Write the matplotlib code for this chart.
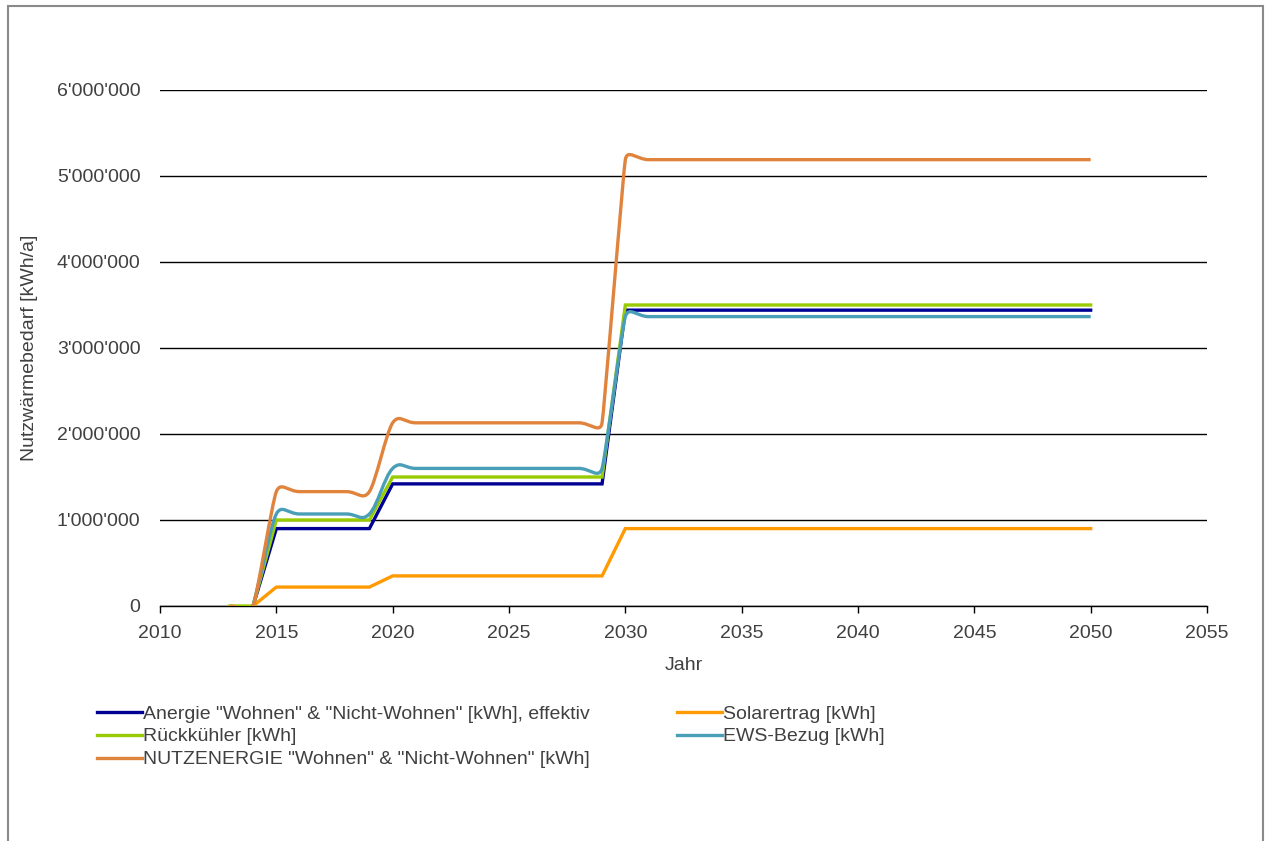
import numpy as np
import matplotlib
matplotlib.use("Agg")
import matplotlib.pyplot as plt
from matplotlib.path import Path
from matplotlib.patches import PathPatch, Rectangle
from matplotlib.lines import Line2D
from matplotlib.ticker import FuncFormatter, MultipleLocator

plt.rcParams["font.family"] = ["Liberation Sans", "DejaVu Sans"]

NAN = float("nan")
years = list(range(2013, 2051))

anergie = [NAN, 0,
           900000, 900000, 900000, 900000, 900000,
           1420000, 1420000, 1420000, 1420000, 1420000,
           1420000, 1420000, 1420000, 1420000, 1420000,
           3440000, 3440000, 3440000, 3440000, 3440000, 3440000, 3440000,
           3440000, 3440000, 3440000, 3440000, 3440000, 3440000, 3440000,
           3440000, 3440000, 3440000, 3440000, 3440000, 3440000, 3440000]
solar = [NAN, 0,
         220000, 220000, 220000, 220000, 220000,
         350000, 350000, 350000, 350000, 350000,
         350000, 350000, 350000, 350000, 350000,
         900000, 900000, 900000, 900000, 900000, 900000, 900000,
         900000, 900000, 900000, 900000, 900000, 900000, 900000,
         900000, 900000, 900000, 900000, 900000, 900000, 900000]
rueckkuehler = [0, 0,
                1000000, 1000000, 1000000, 1000000, 1000000,
                1500000, 1500000, 1500000, 1500000, 1500000,
                1500000, 1500000, 1500000, 1500000, 1500000,
                3500000, 3500000, 3500000, 3500000, 3500000, 3500000, 3500000,
                3500000, 3500000, 3500000, 3500000, 3500000, 3500000, 3500000,
                3500000, 3500000, 3500000, 3500000, 3500000, 3500000, 3500000]
ews = [NAN, 0,
       1070000, 1070000, 1070000, 1070000, 1070000,
       1600000, 1600000, 1600000, 1600000, 1600000,
       1600000, 1600000, 1600000, 1600000, 1600000,
       3365000, 3365000, 3365000, 3365000, 3365000, 3365000, 3365000,
       3365000, 3365000, 3365000, 3365000, 3365000, 3365000, 3365000,
       3365000, 3365000, 3365000, 3365000, 3365000, 3365000, 3365000]
nutzenergie = [0, 0,
               1330000, 1330000, 1330000, 1330000, 1330000,
               2130000, 2130000, 2130000, 2130000, 2130000,
               2130000, 2130000, 2130000, 2130000, 2130000,
               5190000, 5190000, 5190000, 5190000, 5190000, 5190000, 5190000,
               5190000, 5190000, 5190000, 5190000, 5190000, 5190000, 5190000,
               5190000, 5190000, 5190000, 5190000, 5190000, 5190000, 5190000]

labels = ['Anergie "Wohnen" & "Nicht-Wohnen" [kWh], effektiv',
          'Solarertrag [kWh]',
          'Rückkühler [kWh]',
          'EWS-Bezug [kWh]',
          'NUTZENERGIE "Wohnen" & "Nicht-Wohnen" [kWh]']
colors = ["#000094", "#FF9A00", "#99CC00", "#4A9FB8", "#E0833D"]
smoothed = [False, False, False, True, True]
series = [anergie, solar, rueckkuehler, ews, nutzenergie]

TEXT = "#404040"
LW = 2.4
W, H = 1268, 841
fig = plt.figure(figsize=(W / 100, H / 100), dpi=100)
ax = fig.add_axes([160 / W, 1 - 606 / H, (1207 - 160) / W, (606 - 90) / H])
ax.set_xlim(2010, 2055)
ax.set_ylim(0, 6000000)

ax.xaxis.set_major_locator(MultipleLocator(5))
ax.yaxis.set_major_locator(MultipleLocator(1000000))
ax.yaxis.set_major_formatter(FuncFormatter(lambda v, p: f"{int(round(v)):,}".replace(",", "'")))
ax.grid(axis="y", color="black", lw=1.0)
ax.set_axisbelow(True)
for s in ("left", "right", "top"):
    ax.spines[s].set_visible(False)
ax.spines["bottom"].set_color("black")
ax.spines["bottom"].set_linewidth(1.0)
ax.tick_params(axis="x", direction="out", length=5, width=1, color="black",
               labelsize=14, labelcolor=TEXT, pad=9)
ax.tick_params(axis="y", length=0, labelsize=14, labelcolor=TEXT, pad=14)

ax.set_ylabel("Nutzwärmebedarf [kWh/a]", fontsize=14, color=TEXT)
ax.yaxis.set_label_coords(-0.1165, 0.5)
ax.set_xlabel("Jahr", fontsize=14, color=TEXT)
ax.xaxis.set_label_coords(0.5, -0.099)


def smooth_patch(xs, ys, color, z, tension=0.5):
    """Bezier curve through the points; handle length limited by the shorter neighbouring chord."""
    pts = ax.transData.transform(np.column_stack([xs, ys]))
    n = len(pts)

    def handle(prev, cur, nxt, seg):
        t = nxt - prev
        L = np.hypot(*t)
        if L == 0:
            return np.zeros(2)
        d_in = np.hypot(*(cur - prev))
        d_out = np.hypot(*(nxt - cur))
        lim = min(d for d in (d_in, d_out) if d > 0) if (d_in > 0 or d_out > 0) else 0
        return t / L * tension * min(lim, seg)

    verts = [pts[0]]
    codes = [Path.MOVETO]
    for i in range(n - 1):
        p0 = pts[i - 1] if i > 0 else pts[i]
        p1 = pts[i]
        p2 = pts[i + 1]
        p3 = pts[i + 2] if i + 2 < n else pts[i + 1]
        seg = np.hypot(*(p2 - p1))
        c1 = p1 + handle(p0, p1, p2, seg)
        c2 = p2 - handle(p1, p2, p3, seg)
        verts += [c1, c2, p2]
        codes += [Path.CURVE4] * 3
    dv = ax.transData.inverted().transform(np.array(verts))
    patch = PathPatch(Path(dv, codes), fill=False, edgecolor=color, lw=LW,
                      joinstyle="round", capstyle="butt", zorder=z)
    ax.add_patch(patch)


for k, (vals, col, sm) in enumerate(zip(series, colors, smoothed)):
    xs = np.array(years, dtype=float)
    ys = np.array(vals, dtype=float)
    ok = ~np.isnan(ys)
    if sm:
        smooth_patch(xs[ok], ys[ok], col, 3 + k)
    else:
        ax.plot(xs[ok], ys[ok], color=col, lw=LW, zorder=3 + k,
                solid_joinstyle="miter")

handles = [Line2D([], [], color=c, lw=LW) for c in colors]
leg_kw = dict(frameon=False, fontsize=14, handlelength=2.3, handletextpad=0.08,
              labelspacing=0.27, borderpad=0, borderaxespad=0, labelcolor=TEXT,
              loc="upper left")
fig.legend([handles[0], handles[2], handles[4]], [labels[0], labels[2], labels[4]],
           bbox_to_anchor=(97 / W, 1 - 705 / H), **leg_kw)
fig.legend([handles[1], handles[3]], [labels[1], labels[3]],
           bbox_to_anchor=(677 / W, 1 - 705 / H), **leg_kw)

# chart frame
fig.add_artist(Rectangle((8 / W, -0.05), (1263 - 8) / W, 1.05 - 6 / H,
                         transform=fig.transFigure, fill=False,
                         edgecolor="#8a8a8a", lw=1.5))

fig.savefig("out.png", dpi=100)
